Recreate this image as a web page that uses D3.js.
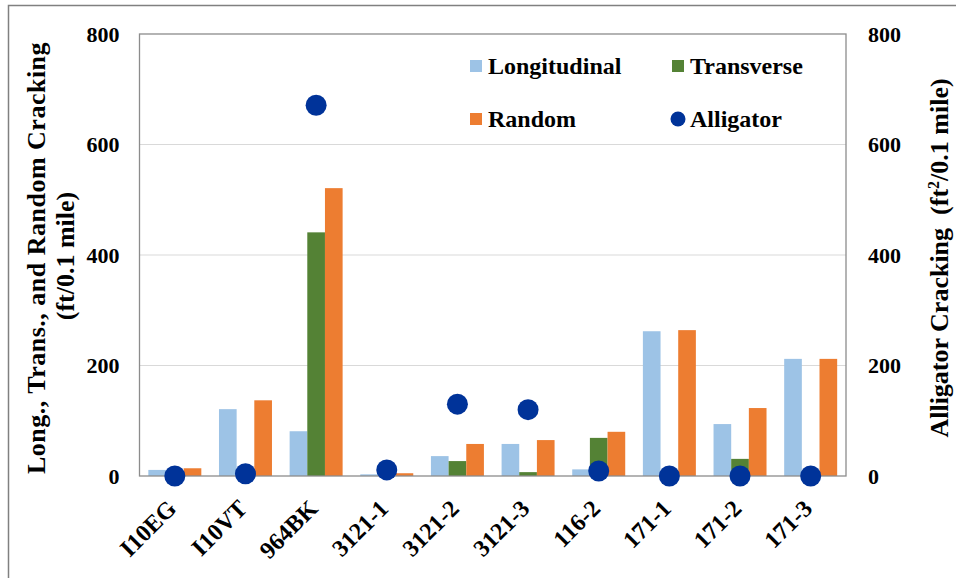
<!doctype html>
<html lang="en">
  <head>
    <meta charset="UTF-8" />
    <title>Cracking by Section</title>
    <script src="https://d3js.org/d3.v7.min.js"></script>
    <style>
      body {
        margin: 0;
        padding: 0;
        background: #ffffff;
      }
      svg text {
        font-family: 'Liberation Serif', 'Times New Roman', serif;
        font-weight: bold;
        fill: #000000;
        white-space: pre;
      }
    </style>
  </head>
  <body>
    <div id="chart"></div>
    <script>
      // Data
      const sections = ['I10EG', 'I10VT', '964BK', '3121-1', '3121-2', '3121-3', '116-2', '171-1', '171-2', '171-3']
      const longitudinal = [11, 121, 81, 3, 36, 58, 12, 262, 94, 212]
      const transverse = [0, 0, 441, 0, 27, 7, 69, 0, 31, 0]
      const random = [14, 137, 521, 5, 58, 65, 80, 264, 123, 212]
      const alligator = [0, 4, 671, 11, 130, 120, 9, 0, 0, 0]
      const yTicks = [0, 200, 400, 600, 800]

      const seriesNames = ['Longitudinal', 'Transverse', 'Random']
      const seriesValues = [longitudinal, transverse, random]
      const colors = { Longitudinal: '#9DC3E6', Transverse: '#548235', Random: '#ED7D31', Alligator: '#003399' }

      const width = 956
      const height = 578
      const plot = { left: 139.5, right: 846, top: 34, bottom: 476 }

      const svg = d3.select('#chart').append('svg').attr('width', width).attr('height', height)

      // outer frame (only top and left edges fall inside the picture)
      svg
        .append('rect')
        .attr('x', 8.5)
        .attr('y', 5.5)
        .attr('width', 1000)
        .attr('height', 1000)
        .attr('fill', 'none')
        .attr('stroke', '#808080')
        .attr('stroke-width', 1.5)

      const x = d3.scaleBand().domain(sections).range([plot.left, plot.right])
      const x1 = d3
        .scaleBand()
        .domain(seriesNames)
        .range([0, x.bandwidth()])
        .paddingOuter(0.5)
        .paddingInner(0)
      const yLeft = d3.scaleLinear().domain([0, 800]).range([plot.bottom, plot.top])
      const yRight = d3.scaleLinear().domain([0, 800]).range([plot.bottom, plot.top])

      // gridlines
      svg
        .append('g')
        .selectAll('line')
        .data(yTicks.filter((d) => d > 0 && d < 800))
        .enter()
        .append('line')
        .attr('x1', plot.left)
        .attr('x2', plot.right)
        .attr('y1', (d) => yLeft(d))
        .attr('y2', (d) => yLeft(d))
        .attr('stroke', '#d9d9d9')
        .attr('stroke-width', 1)

      // bars
      const groups = svg
        .append('g')
        .selectAll('g')
        .data(sections)
        .enter()
        .append('g')
        .attr('transform', (d) => `translate(${x(d)},0)`)

      groups
        .selectAll('rect')
        .data((d, i) => seriesNames.map((s, k) => ({ s, v: seriesValues[k][i] })))
        .enter()
        .append('rect')
        .attr('x', (d) => x1(d.s))
        .attr('width', x1.bandwidth())
        .attr('y', (d) => yLeft(d.v))
        .attr('height', (d) => yLeft(0) - yLeft(d.v))
        .attr('fill', (d) => colors[d.s])

      // plot border
      svg
        .append('rect')
        .attr('x', plot.left)
        .attr('y', plot.top)
        .attr('width', plot.right - plot.left)
        .attr('height', plot.bottom - plot.top)
        .attr('fill', 'none')
        .attr('stroke', '#8c8c8c')
        .attr('stroke-width', 1.3)

      // alligator dots (right axis)
      svg
        .append('g')
        .selectAll('circle')
        .data(alligator)
        .enter()
        .append('circle')
        .attr('cx', (d, i) => x(sections[i]) + x.bandwidth() / 2)
        .attr('cy', (d) => yRight(d))
        .attr('r', 10.5)
        .attr('fill', colors.Alligator)

      // left axis
      svg
        .append('g')
        .attr('transform', `translate(${plot.left - 20},0)`)
        .call(d3.axisLeft(yLeft).tickValues(yTicks).tickSize(0).tickPadding(0))
        .call((g) => g.select('.domain').remove())
        .call((g) => g.selectAll('text').attr('font-size', '22px').attr('dy', '0.33em'))

      // right axis
      svg
        .append('g')
        .attr('transform', `translate(${plot.right + 22},0)`)
        .call(d3.axisRight(yRight).tickValues(yTicks).tickSize(0).tickPadding(0))
        .call((g) => g.select('.domain').remove())
        .call((g) => g.selectAll('text').attr('font-size', '22px').attr('dy', '0.33em'))

      // x axis labels, slanted
      svg
        .append('g')
        .attr('transform', `translate(0,${plot.bottom})`)
        .call(d3.axisBottom(x).tickSize(0).tickPadding(0))
        .call((g) => g.select('.domain').remove())
        .call((g) =>
          g
            .selectAll('text')
            .attr('font-size', '24px')
            .attr('text-anchor', 'end')
            .attr('y', 0)
            .attr('dy', 0)
            .attr('transform', 'translate(3,34) rotate(-45)')
        )

      // axis titles
      const midY = 258
      svg
        .append('text')
        .attr('transform', `translate(45,${midY}) rotate(-90)`)
        .attr('text-anchor', 'middle')
        .attr('font-size', '26px')
        .attr('letter-spacing', '0.5px')
        .text('Long., Trans., and Random Cracking')
      svg
        .append('text')
        .attr('transform', `translate(74,${midY - 2}) rotate(-90)`)
        .attr('text-anchor', 'middle')
        .attr('font-size', '26px')
        .text('(ft/0.1 mile)')

      const rTitle = svg
        .append('text')
        .attr('transform', `translate(948,${midY}) rotate(-90)`)
        .attr('text-anchor', 'middle')
        .attr('font-size', '26px')
      rTitle.append('tspan').text('Alligator Cracking  (ft')
      rTitle.append('tspan').attr('font-size', '16px').attr('dy', '-9').text('2')
      rTitle.append('tspan').attr('dy', '9').text('/0.1 mile)')

      // legend
      const legendItems = [
        { name: 'Longitudinal', x: 470, y: 66 },
        { name: 'Transverse', x: 672, y: 66 },
        { name: 'Random', x: 470, y: 119 },
        { name: 'Alligator', x: 672, y: 119 },
      ]
      const legend = svg
        .append('g')
        .selectAll('g')
        .data(legendItems)
        .enter()
        .append('g')
        .attr('transform', (d) => `translate(${d.x},${d.y})`)
      legend.each(function (d) {
        const g = d3.select(this)
        if (d.name === 'Alligator') {
          g.append('circle').attr('cx', 6).attr('cy', 0).attr('r', 7.5).attr('fill', colors.Alligator)
        } else {
          g.append('rect').attr('x', 0).attr('y', -6).attr('width', 12).attr('height', 12).attr('fill', colors[d.name])
        }
        g.append('text')
          .attr('x', 18)
          .attr('y', 0)
          .attr('dy', '0.34em')
          .attr('font-size', '24px')
          .text(d.name)
      })
    </script>
  </body>
</html>
